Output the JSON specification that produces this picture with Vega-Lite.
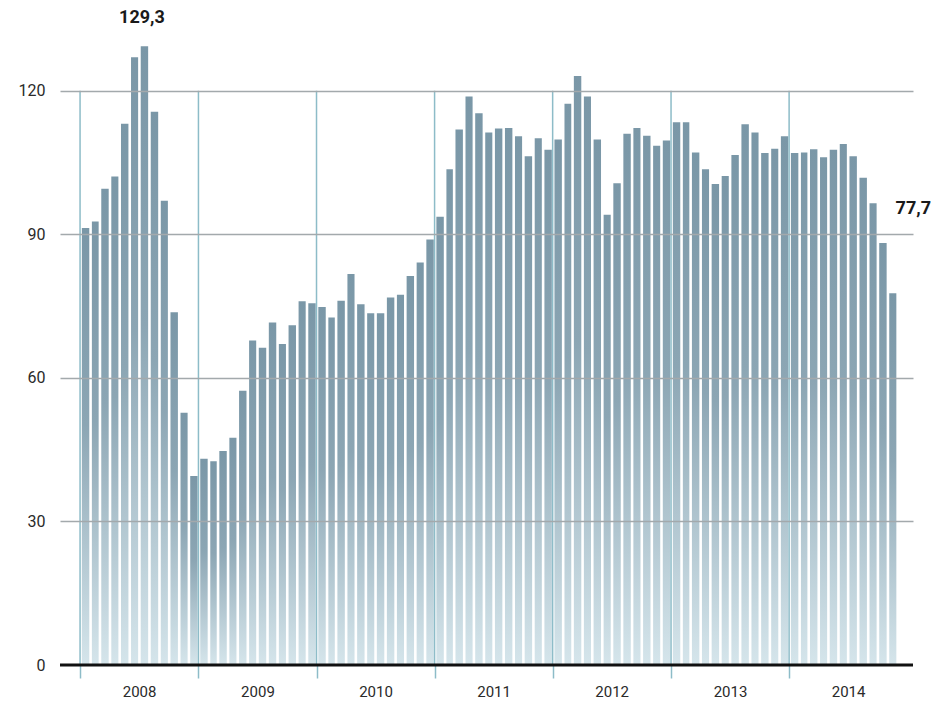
{
  "$schema": "https://vega.github.io/schema/vega-lite/v6.json",
  "width": 853,
  "height": 646,
  "autosize": {"type": "none"},
  "padding": {"left": 60, "top": 19, "right": 23, "bottom": 43},
  "background": "white",
  "config": {"view": {"stroke": null}, "font": "Roboto"},
  "datasets": {
    "prices": [
      {"date": "2008-01-15", "value": 91.3}, {"date": "2008-02-15", "value": 92.7}, {"date": "2008-03-15", "value": 99.5}, {"date": "2008-04-15", "value": 102.1}, {"date": "2008-05-15", "value": 113.1}, {"date": "2008-06-15", "value": 127.0}, {"date": "2008-07-15", "value": 129.3}, {"date": "2008-08-15", "value": 115.6}, {"date": "2008-09-15", "value": 97.0}, {"date": "2008-10-15", "value": 73.7}, {"date": "2008-11-15", "value": 52.7}, {"date": "2008-12-15", "value": 39.5},
      {"date": "2009-01-15", "value": 43.1}, {"date": "2009-02-15", "value": 42.6}, {"date": "2009-03-15", "value": 44.7}, {"date": "2009-04-15", "value": 47.5}, {"date": "2009-05-15", "value": 57.3}, {"date": "2009-06-15", "value": 67.8}, {"date": "2009-07-15", "value": 66.3}, {"date": "2009-08-15", "value": 71.6}, {"date": "2009-09-15", "value": 67.1}, {"date": "2009-10-15", "value": 71.0}, {"date": "2009-11-15", "value": 76.0}, {"date": "2009-12-15", "value": 75.6},
      {"date": "2010-01-15", "value": 74.8}, {"date": "2010-02-15", "value": 72.6}, {"date": "2010-03-15", "value": 76.1}, {"date": "2010-04-15", "value": 81.7}, {"date": "2010-05-15", "value": 75.4}, {"date": "2010-06-15", "value": 73.5}, {"date": "2010-07-15", "value": 73.5}, {"date": "2010-08-15", "value": 76.8}, {"date": "2010-09-15", "value": 77.4}, {"date": "2010-10-15", "value": 81.3}, {"date": "2010-11-15", "value": 84.1}, {"date": "2010-12-15", "value": 88.9},
      {"date": "2011-01-15", "value": 93.7}, {"date": "2011-02-15", "value": 103.6}, {"date": "2011-03-15", "value": 111.9}, {"date": "2011-04-15", "value": 118.8}, {"date": "2011-05-15", "value": 115.3}, {"date": "2011-06-15", "value": 111.3}, {"date": "2011-07-15", "value": 112.1}, {"date": "2011-08-15", "value": 112.2}, {"date": "2011-09-15", "value": 110.5}, {"date": "2011-10-15", "value": 106.3}, {"date": "2011-11-15", "value": 110.1}, {"date": "2011-12-15", "value": 107.7},
      {"date": "2012-01-15", "value": 109.8}, {"date": "2012-02-15", "value": 117.3}, {"date": "2012-03-15", "value": 123.1}, {"date": "2012-04-15", "value": 118.8}, {"date": "2012-05-15", "value": 109.8}, {"date": "2012-06-15", "value": 94.1}, {"date": "2012-07-15", "value": 100.7}, {"date": "2012-08-15", "value": 111.0}, {"date": "2012-09-15", "value": 112.2}, {"date": "2012-10-15", "value": 110.6}, {"date": "2012-11-15", "value": 108.5}, {"date": "2012-12-15", "value": 109.6},
      {"date": "2013-01-15", "value": 113.4}, {"date": "2013-02-15", "value": 113.4}, {"date": "2013-03-15", "value": 107.1}, {"date": "2013-04-15", "value": 103.6}, {"date": "2013-05-15", "value": 100.5}, {"date": "2013-06-15", "value": 102.2}, {"date": "2013-07-15", "value": 106.6}, {"date": "2013-08-15", "value": 113.0}, {"date": "2013-09-15", "value": 111.3}, {"date": "2013-10-15", "value": 107.0}, {"date": "2013-11-15", "value": 107.9}, {"date": "2013-12-15", "value": 110.5},
      {"date": "2014-01-15", "value": 107.0}, {"date": "2014-02-15", "value": 107.1}, {"date": "2014-03-15", "value": 107.8}, {"date": "2014-04-15", "value": 106.1}, {"date": "2014-05-15", "value": 107.7}, {"date": "2014-06-15", "value": 108.9}, {"date": "2014-07-15", "value": 106.3}, {"date": "2014-08-15", "value": 101.8}, {"date": "2014-09-15", "value": 96.5}, {"date": "2014-10-15", "value": 88.2}, {"date": "2014-11-15", "value": 77.7}
    ],
    "years": [
      {"start": "2008-01-01T00:00:00"}, {"start": "2009-01-01T00:00:00"}, {"start": "2010-01-01T00:00:00"}, {"start": "2011-01-01T00:00:00"}, {"start": "2012-01-01T00:00:00"}, {"start": "2013-01-01T00:00:00"}, {"start": "2014-01-01T00:00:00"}
    ],
    "notes": [
      {"date": "2008-07-16T12:00:00", "value": 129.3, "label": "129,3"},
      {"date": "2014-11-16T00:00:00", "value": 77.7, "label": "77,7"}
    ]
  },
  "layer": [
    {
      "data": {"name": "prices"},
      "mark": {
        "type": "bar",
        "binSpacing": 2.6,
        "color": {
          "gradient": "linear", "x1": 0, "y1": 0, "x2": 0, "y2": 1,
          "stops": [
            {"offset": 0, "color": "#7a97a7"},
            {"offset": 0.45, "color": "#8ca6b4"},
            {"offset": 1, "color": "#d5e5eb"}
          ]
        }
      },
      "encoding": {
        "x": {
          "field": "date", "timeUnit": "yearmonth", "type": "temporal",
          "scale": {"domain": [{"year": 2007, "month": 10, "date": 31}, {"year": 2015, "month": 1, "date": 19}]},
          "axis": {
            "title": null,
            "values": [{"year": 2008, "month": 1, "date": 1}, {"year": 2009, "month": 1, "date": 1}, {"year": 2010, "month": 1, "date": 1}, {"year": 2011, "month": 1, "date": 1}, {"year": 2012, "month": 1, "date": 1}, {"year": 2013, "month": 1, "date": 1}, {"year": 2014, "month": 1, "date": 1}],
            "format": "%Y",
            "labelOffset": 59,
            "labelAlign": "center",
            "grid": false,
            "domain": false,
            "tickColor": "#8dbcc8",
            "tickSize": 13,
            "tickWidth": 1.5,
            "labelPadding": 6,
            "labelFontSize": 15,
            "labelColor": "#2a2a2a",
            "labelFlush": false,
            "labelOverlap": false
          }
        },
        "y": {
          "field": "value", "type": "quantitative",
          "scale": {"domain": [0, 135], "nice": false},
          "axis": {
            "title": null,
            "values": [0, 30, 60, 90, 120],
            "grid": true,
            "gridColor": "#a3a9ac",
            "gridWidth": 1.5,
            "gridOpacity": {"condition": {"test": "datum.value == 0", "value": 0}, "value": 1},
            "domain": false,
            "ticks": false,
            "labelPadding": 15,
            "labelFontSize": 16,
            "labelColor": "#2a2a2a",
            "zindex": 1
          }
        }
      }
    },
    {
      "data": {"name": "years"},
      "mark": {"type": "rule", "color": "#8dbcc8", "strokeWidth": 1.5},
      "encoding": {
        "x": {"field": "start", "type": "temporal"},
        "y": {"datum": 120, "type": "quantitative"},
        "y2": {"datum": 0}
      }
    },
    {
      "data": {"values": [{}]},
      "mark": {"type": "rule", "color": "#111111", "strokeWidth": 3},
      "encoding": {"y": {"datum": 0, "type": "quantitative"}}
    },
    {
      "data": {"name": "notes"},
      "transform": [{"filter": "datum.label == '129,3'"}],
      "mark": {"type": "text", "fontWeight": "bold", "fontSize": 18, "color": "#1a1a1a", "align": "center", "baseline": "middle", "dx": -2, "dy": -28},
      "encoding": {
        "x": {"field": "date", "type": "temporal"},
        "y": {"field": "value", "type": "quantitative"},
        "text": {"field": "label"}
      }
    },
    {
      "data": {"name": "notes"},
      "transform": [{"filter": "datum.label == '77,7'"}],
      "mark": {"type": "text", "fontWeight": "bold", "fontSize": 18, "color": "#1a1a1a", "align": "center", "baseline": "middle", "dx": 21, "dy": -84},
      "encoding": {
        "x": {"field": "date", "type": "temporal"},
        "y": {"field": "value", "type": "quantitative"},
        "text": {"field": "label"}
      }
    }
  ]
}
